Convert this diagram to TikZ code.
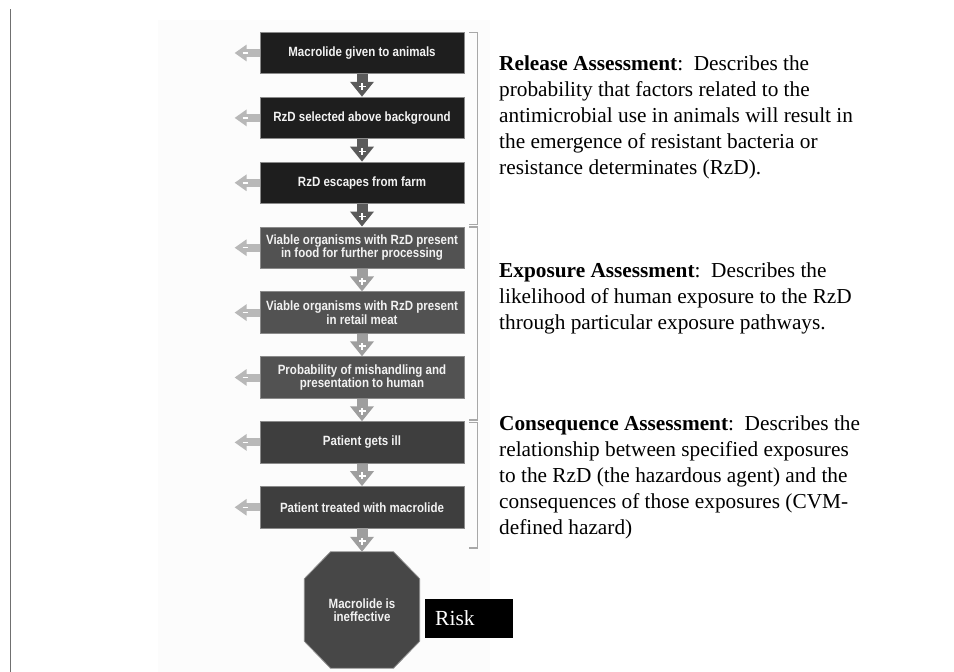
\documentclass[tikz,border=0pt]{standalone}
\usepackage{fontspec}
\setmainfont{Liberation Serif}
\newfontfamily\boxfont[FakeStretch=0.86]{Liberation Sans}
\usetikzlibrary{arrows.meta,calc}
\definecolor{boxA}{HTML}{1E1E1E}
\definecolor{boxB}{HTML}{525252}
\definecolor{boxC}{HTML}{3E3E3E}
\definecolor{octfill}{HTML}{474747}
\definecolor{boxedge}{HTML}{8A8A8A}
\definecolor{boxtext}{HTML}{F2F2F2}
\definecolor{dnA}{HTML}{5A5A5A}
\definecolor{dnB}{HTML}{9E9E9E}
\definecolor{leftgray}{HTML}{B8B8B8}
\definecolor{brackcol}{HTML}{A8A8A8}
\definecolor{figbg}{HTML}{FCFCFC}
\definecolor{rulecol}{HTML}{707070}
\newcommand\plusmark[1]{\draw[white,line width=1.6pt] ([xshift=-3.5pt]#1) -- ([xshift=3.5pt]#1) ([yshift=-3.5pt]#1) -- ([yshift=3.5pt]#1);}
\begin{document}
\begin{tikzpicture}[x=1pt,y=-1pt,
  stepbox/.style={rectangle, minimum width=204pt, minimum height=41.5pt, inner sep=2pt,
    draw=boxedge, line width=0.8pt, text=boxtext, align=center,
    font=\boxfont\bfseries\fontsize{13.4}{13.4}\selectfont},
  dnarrow/.style={line width=11pt, -{Triangle[width=23pt,length=15pt]}},
  leftarr/.style={line width=8pt, leftgray, -{Triangle[width=16pt,length=12pt]}},
  desc/.style={anchor=north west, inner sep=0pt, align=left,
    font=\fontsize{21.3}{25.9}\selectfont},
  brack/.style={draw=brackcol, line width=1.2pt}]
\useasboundingbox (0,0) rectangle (954,672);
\fill[white] (0,0) rectangle (954,672);
\fill[figbg] (158,20) rectangle (490,672);
% left rule
\draw[rulecol, line width=1.2pt] (10.5,9) -- (10.5,672);
% boxes
\node[stepbox, fill=boxA] (b1) at (362,53.0) {Macrolide given to animals};
\node[stepbox, fill=boxA] (b2) at (362,117.9) {RzD selected above background};
\node[stepbox, fill=boxA] (b3) at (362,182.8) {RzD escapes from farm};
\node[stepbox, fill=boxB] (b4) at (362,247.7) {Viable organisms with RzD present\\in food for further processing};
\node[stepbox, fill=boxB] (b5) at (362,312.6) {Viable organisms with RzD present\\in retail meat};
\node[stepbox, fill=boxB] (b6) at (362,377.5) {Probability of mishandling and\\presentation to human};
\node[stepbox, fill=boxC] (b7) at (362,442.4) {Patient gets ill};
\node[stepbox, fill=boxC] (b8) at (362,507.3) {Patient treated with macrolide};
% octagon
\node[minimum width=115pt, minimum height=116pt, inner sep=0pt] (oct) at (362,610) {};
\filldraw[fill=octfill, draw=boxedge, line width=0.8pt]
  ([xshift=-31.5pt]oct.north) -- ([xshift=31.5pt]oct.north) -- ([yshift=-27pt]oct.north east)
  -- ([yshift=27pt]oct.south east) -- ([xshift=31.5pt]oct.south) -- ([xshift=-31.5pt]oct.south)
  -- ([yshift=27pt]oct.south west) -- ([yshift=-27pt]oct.north west) -- cycle;
\node[text=boxtext, align=center, font=\boxfont\bfseries\fontsize{13.4}{13.4}\selectfont] (octtext) at (oct.center) {Macrolide is\\ineffective};
% down arrows
\foreach \a/\b/\c in {b1/b2/dnA, b2/b3/dnA, b3/b4/dnA, b4/b5/dnB, b5/b6/dnB, b6/b7/dnB, b7/b8/dnB, b8/oct/dnB}{
  \draw[dnarrow, \c] (\a.south) -- (\b.north);
  \coordinate (pm) at ($(\a.south)!0.55!(\b.north)$);
  \plusmark{pm}
}
% left arrows
\foreach \n in {1,...,8}{
  \coordinate (t\n) at ([xshift=-25pt]b\n.west);
  \draw[leftarr] (b\n.west) -- (t\n);
  \draw[white, line width=1.5pt] ([xshift=-17pt]b\n.west) -- ([xshift=-12pt]b\n.west);
}
% brackets
\draw[brack] (469,32.5) -- (477.5,32.5) -- (477.5,224.5) -- (469,224.5);
\draw[brack] (469,227) -- (477.5,227) -- (477.5,420) -- (469,420);
\draw[brack] (469,422.5) -- (477.5,422.5) -- (477.5,548) -- (469,548);
% descriptions
\node[desc] (rel) at (499,55.5) {\textbf{Release Assessment}:\ \ Describes the\\probability that factors related to the\\antimicrobial use in animals will result in\\the emergence of resistant bacteria or\\resistance determinates (RzD).};
\node[desc] (exp) at (499,262.5) {\textbf{Exposure Assessment}:\ \ Describes the\\likelihood of human exposure to the RzD\\through particular exposure pathways.};
\node[desc] (con) at (499,415.5) {\textbf{Consequence Assessment}:\ \ Describes the\\relationship between specified exposures\\to the RzD (the hazardous agent) and the\\consequences of those exposures (CVM-\\defined hazard)};
% risk
\node[fill=black, text=white, minimum width=88pt, minimum height=39pt, inner xsep=10pt, inner ysep=0pt, text width=68pt, align=left, anchor=west, font=\fontsize{21.5}{24}\selectfont] (risk) at (425,618.4) {Risk};
\end{tikzpicture}
\end{document}
